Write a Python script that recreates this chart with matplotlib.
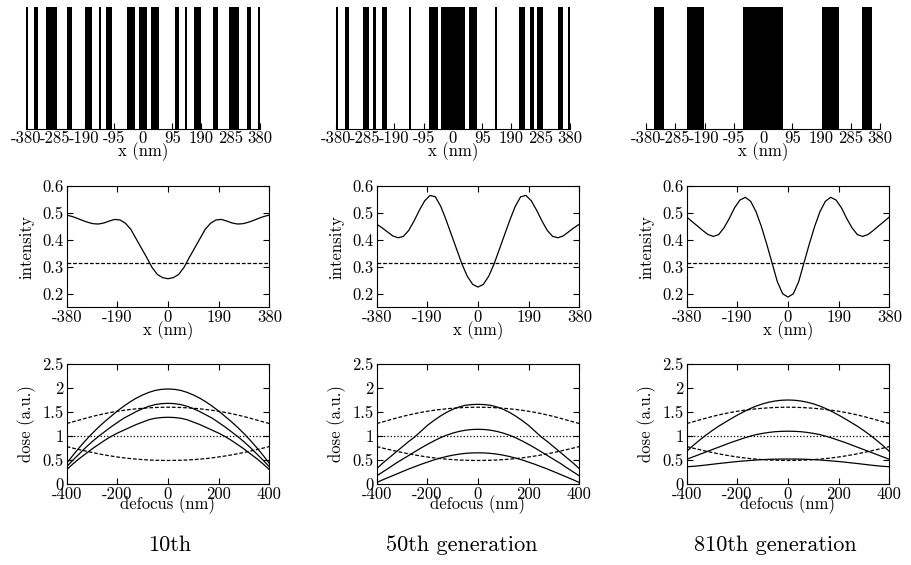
import numpy as np
import matplotlib
matplotlib.use('agg')
import matplotlib.pyplot as plt

plt.rcParams['font.family'] = 'serif'
plt.rcParams['font.serif'] = ['cmr10']
plt.rcParams['mathtext.fontset'] = 'cm'
plt.rcParams['axes.unicode_minus'] = False

# mask patterns: (start, end) of opaque regions, nm
mask_10 = [(-380, -374), (-354, -341), (-315, -280), (-248, -231), (-190, -166),
           (-144, -138), (-120, -101), (-53, -27), (-14, 12), (25, 53),
           (103, 118), (135, 142), (166, 187), (228, 245), (280, 313),
           (339, 352), (374, 380)]
mask_50 = [(-380, -374), (-352, -337), (-291, -274), (-261, -250), (-231, -213),
           (-142, -135), (-77, -49), (-38, 40), (53, 79), (137, 144),
           (215, 235), (250, 263), (274, 291), (341, 356), (374, 380)]
mask_810 = [(-353, -320), (-248, -191), (-64, 0), (0, 64), (191, 248), (320, 353)]

# aerial image intensity, x = -380..380 nm
x_int = list(range(-380, 381, 20))
int_10 = [0.492, 0.487, 0.480, 0.472, 0.465, 0.460, 0.459, 0.463, 0.470, 0.476, 0.474, 0.462, 0.44,
          0.405, 0.37, 0.335, 0.298, 0.272, 0.260, 0.256, 0.260, 0.272, 0.298, 0.335, 0.37, 0.405,
          0.44, 0.462, 0.474, 0.476, 0.470, 0.463, 0.459, 0.460, 0.465, 0.472, 0.480, 0.487, 0.492]
int_50 = [0.458, 0.445, 0.43, 0.415, 0.408, 0.413, 0.435, 0.47, 0.51, 0.545, 0.565, 0.56, 0.525,
          0.475, 0.42, 0.365, 0.31, 0.265, 0.235, 0.225, 0.235, 0.265, 0.31, 0.365, 0.42, 0.475,
          0.525, 0.56, 0.565, 0.545, 0.51, 0.47, 0.435, 0.413, 0.408, 0.415, 0.43, 0.445, 0.458]
int_810 = [0.485, 0.468, 0.452, 0.435, 0.42, 0.413, 0.42, 0.445, 0.48, 0.52, 0.548, 0.558, 0.543,
           0.505, 0.45, 0.385, 0.315, 0.245, 0.20, 0.188, 0.20, 0.245, 0.315, 0.385, 0.45, 0.505,
           0.543, 0.558, 0.548, 0.52, 0.48, 0.445, 0.42, 0.413, 0.42, 0.435, 0.452, 0.468, 0.485]
threshold = 0.314

# dose vs defocus, defocus = -400..400 nm
defocus = list(range(-400, 401, 25))
dose_hi = [1.26, 1.296, 1.333, 1.37, 1.405, 1.437, 1.466, 1.492, 1.515, 1.535, 1.552, 1.566, 1.578,
           1.587, 1.594, 1.598, 1.60, 1.598, 1.594, 1.587, 1.578, 1.566, 1.552, 1.535, 1.515, 1.492,
           1.466, 1.437, 1.405, 1.37, 1.333, 1.296, 1.26]
dose_lo = [0.78, 0.747, 0.716, 0.686, 0.657, 0.63, 0.605, 0.583, 0.563, 0.545, 0.53, 0.518, 0.508,
           0.50, 0.495, 0.492, 0.49, 0.492, 0.495, 0.50, 0.508, 0.518, 0.53, 0.545, 0.563, 0.583,
           0.605, 0.63, 0.657, 0.686, 0.716, 0.747, 0.78]
dose_nom = [1.0] * len(defocus)

dose_10 = [
    [0.43, 0.60, 0.76, 0.91, 1.05, 1.18, 1.30, 1.41, 1.52, 1.62, 1.71, 1.79, 1.855, 1.91, 1.95,
     1.972, 1.98, 1.972, 1.95, 1.91, 1.855, 1.79, 1.71, 1.62, 1.52, 1.41, 1.30, 1.18, 1.05,
     0.91, 0.76, 0.60, 0.43],
    [0.36, 0.50, 0.63, 0.76, 0.88, 0.99, 1.09, 1.19, 1.28, 1.37, 1.44, 1.51, 1.57, 1.62, 1.655,
     1.675, 1.68, 1.675, 1.655, 1.62, 1.57, 1.51, 1.44, 1.37, 1.28, 1.19, 1.09, 0.99, 0.88, 0.76,
     0.63, 0.50, 0.36],
    [0.30, 0.42, 0.53, 0.63, 0.73, 0.82, 0.91, 0.99, 1.06, 1.12, 1.18, 1.24, 1.29, 1.34, 1.37,
     1.385, 1.39, 1.385, 1.37, 1.34, 1.29, 1.24, 1.18, 1.12, 1.06, 0.99, 0.91, 0.82, 0.73, 0.63,
     0.53, 0.42, 0.30],
]
dose_50 = [
    [0.32, 0.44, 0.55, 0.66, 0.77, 0.88, 0.98, 1.10, 1.22, 1.32, 1.41, 1.49, 1.555, 1.605, 1.64,
     1.655, 1.66, 1.655, 1.64, 1.605, 1.555, 1.49, 1.41, 1.32, 1.22, 1.10, 0.98, 0.88, 0.77, 0.66,
     0.55, 0.44, 0.32],
    [0.17, 0.255, 0.34, 0.43, 0.51, 0.59, 0.67, 0.75, 0.825, 0.895, 0.96, 1.015, 1.06, 1.095, 1.12,
     1.135, 1.14, 1.135, 1.12, 1.095, 1.06, 1.015, 0.96, 0.895, 0.825, 0.75, 0.67, 0.59, 0.51, 0.43,
     0.34, 0.255, 0.17],
    [0.03, 0.09, 0.145, 0.20, 0.255, 0.31, 0.36, 0.41, 0.455, 0.50, 0.538, 0.572, 0.60, 0.622, 0.638,
     0.647, 0.65, 0.647, 0.638, 0.622, 0.60, 0.572, 0.538, 0.50, 0.455, 0.41, 0.36, 0.31, 0.255, 0.20,
     0.145, 0.09, 0.03],
]
dose_810 = [
    [0.68, 0.80, 0.91, 1.015, 1.11, 1.20, 1.28, 1.36, 1.435, 1.505, 1.57, 1.625, 1.67, 1.705, 1.73,
     1.745, 1.75, 1.745, 1.73, 1.705, 1.67, 1.625, 1.57, 1.505, 1.435, 1.36, 1.28, 1.20, 1.11, 1.015,
     0.91, 0.80, 0.68],
    [0.515, 0.565, 0.615, 0.665, 0.715, 0.765, 0.815, 0.865, 0.91, 0.955, 0.995, 1.03, 1.055, 1.075,
     1.09, 1.097, 1.10, 1.097, 1.09, 1.075, 1.055, 1.03, 0.995, 0.955, 0.91, 0.865, 0.815, 0.765,
     0.715, 0.665, 0.615, 0.565, 0.515],
    [0.36, 0.368, 0.38, 0.395, 0.41, 0.426, 0.44, 0.455, 0.468, 0.48, 0.49, 0.50, 0.508, 0.514, 0.518,
     0.52, 0.52, 0.52, 0.518, 0.514, 0.508, 0.50, 0.49, 0.48, 0.468, 0.455, 0.44, 0.426, 0.41, 0.395,
     0.38, 0.368, 0.36],
]

masks = [mask_10, mask_50, mask_810]
intensities = [int_10, int_50, int_810]
doses = [dose_10, dose_50, dose_810]
titles = ['10th', '50th generation', '810th generation']

W, H = 912, 565
fs = 12

fig = plt.figure(figsize=(W / 100, H / 100), dpi=100)

for col in range(3):
    off = col * 310

    # top row: mask
    ax = fig.add_axes([(26 + off) / W, 1 - 129.3 / H, 234 / W, 122.3 / H])
    starts = np.array([s for s, e in masks[col]])
    ends = np.array([e for s, e in masks[col]])
    ax.bar(starts, 1, width=ends - starts, align='edge', color='k', linewidth=0)
    ax.set_xlim(-380, 380)
    ax.set_ylim(0, 1)
    for s in ['left', 'right', 'top']:
        ax.spines[s].set_visible(False)
    ax.set_yticks([])
    ticks = [-380, -285, -190, -95, 0, 95, 190, 285, 380]
    ax.set_xticks(ticks)
    ax.set_xticklabels([str(t) for t in ticks])
    ax.tick_params(axis='x', direction='in', length=4, labelsize=fs, pad=1)
    ax.set_xlabel('x (nm)', fontsize=fs, labelpad=-3)

    # middle row: intensity
    ax = fig.add_axes([(66.7 + off) / W, 1 - 307.3 / H, 202.6 / W, 121.3 / H])
    ax.plot(x_int, intensities[col], 'k-', lw=0.9)
    ax.axhline(threshold, color='k', ls='--', lw=0.9, dashes=(3, 1.5))
    ax.set_xlim(-380, 380)
    ax.set_ylim(0.15, 0.6)
    ax.set_xticks([-380, -190, 0, 190, 380])
    ax.set_xticklabels(['-380', '-190', '0', '190', '380'])
    ax.set_yticks([0.2, 0.3, 0.4, 0.5, 0.6])
    ax.set_yticklabels(['0.2', '0.3', '0.4', '0.5', '0.6'])
    ax.tick_params(direction='in', top=True, right=True, length=4, labelsize=fs, pad=2)
    ax.set_xlabel('x (nm)', fontsize=fs, labelpad=-3)
    ax.set_ylabel('intensity', fontsize=fs, labelpad=6)

    # bottom row: dose
    ax = fig.add_axes([(66.7 + off) / W, 1 - 484 / H, 202.6 / W, 120 / H])
    for d in doses[col]:
        ax.plot(defocus, d, 'k-', lw=0.9)
    ax.plot(defocus, dose_hi, 'k--', lw=0.9, dashes=(3, 1.5))
    ax.plot(defocus, dose_lo, 'k--', lw=0.9, dashes=(3, 1.5))
    ax.plot(defocus, dose_nom, 'k:', lw=0.9)
    ax.set_xlim(-400, 400)
    ax.set_ylim(0, 2.5)
    ax.set_xticks([-400, -200, 0, 200, 400])
    ax.set_xticklabels(['-400', '-200', '0', '200', '400'])
    ax.set_yticks([0, 0.5, 1, 1.5, 2, 2.5])
    ax.set_yticklabels(['0', '0.5', '1', '1.5', '2', '2.5'])
    ax.tick_params(direction='in', top=True, right=True, length=4, labelsize=fs, pad=2)
    ax.set_xlabel('defocus (nm)', fontsize=fs, labelpad=-5)
    ax.set_ylabel('dose (a.u.)', fontsize=fs, labelpad=5)

for x, t in zip([170, 462, 775], titles):
    fig.text(x / W, 1 - 545 / H, t, ha='center', va='center', fontsize=16)

fig.savefig('out.png', dpi=100)
